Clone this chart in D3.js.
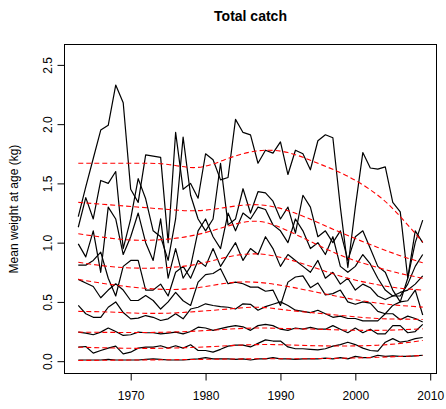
<!DOCTYPE html>
<html>
<head>
<meta charset="utf-8">
<script src="https://cdn.jsdelivr.net/npm/d3@7"></script>
<style>
  body { margin: 0; background: #fff; }
  svg { display: block; }
  text { font-family: "Liberation Sans", Arial, sans-serif; fill: #000; }
</style>
</head>
<body>
<svg id="chart" width="446" height="409"></svg>
<script>
// Mean weight at age (kg) in the total catch, 1963-2009, one array per age group
const years = d3.range(1963, 2010);

const age1 = [0.01,0.01,0.01,0.01,0.015,0.01,0.01,0.01,0.01,0.015,0.02,0.015,0.01,0.01,0.01,0.015,0.02,0.03,0.02,0.02,
              0.02,0.015,0.02,0.01,0.02,0.02,0.03,0.02,0.02,0.015,0.02,0.02,0.02,0.025,0.02,0.03,0.02,0.04,0.03,0.03,
              0.05,0.04,0.045,0.04,0.04,0.045,0.05];
const age2 = [0.118,0.124,0.068,0.09,0.11,0.127,0.062,0.076,0.11,0.118,0.118,0.13,0.11,0.13,0.11,0.138,0.09,0.09,0.076,0.1,
              0.127,0.135,0.135,0.12,0.15,0.18,0.17,0.17,0.12,0.105,0.105,0.1,0.096,0.105,0.127,0.14,0.16,0.14,0.11,0.09,
              0.085,0.16,0.19,0.16,0.17,0.19,0.2];
const age3 = [0.245,0.236,0.223,0.245,0.28,0.25,0.217,0.223,0.245,0.24,0.24,0.23,0.236,0.245,0.23,0.25,0.287,0.28,0.26,0.275,
              0.29,0.3,0.29,0.26,0.3,0.31,0.3,0.27,0.26,0.28,0.27,0.285,0.27,0.27,0.3,0.27,0.24,0.28,0.24,0.27,
              0.23,0.23,0.3,0.3,0.24,0.25,0.31];
const age4 = [0.47,0.4,0.37,0.37,0.455,0.5,0.41,0.357,0.363,0.385,0.37,0.343,0.357,0.4,0.357,0.44,0.455,0.484,0.47,0.46,
              0.455,0.44,0.484,0.48,0.43,0.46,0.48,0.5,0.47,0.43,0.42,0.41,0.43,0.4,0.37,0.38,0.36,0.36,0.34,0.34,
              0.34,0.4,0.4,0.35,0.38,0.36,0.33];
const age5 = [0.69,0.66,0.63,0.535,0.6,0.653,0.6,0.512,0.512,0.554,0.512,0.44,0.5,0.58,0.51,0.47,0.667,0.73,0.74,0.78,
              0.653,0.667,0.653,0.625,0.625,0.59,0.6,0.47,0.667,0.71,0.72,0.62,0.66,0.56,0.57,0.6,0.5,0.48,0.5,0.49,
              0.42,0.4,0.47,0.5,0.51,0.6,0.39];
const age6 = [0.81,0.81,0.85,0.92,0.7,0.55,0.8,0.85,0.85,0.6,0.6,0.65,0.55,0.75,0.8,0.7,0.85,0.8,0.95,0.8,
              0.9,1.0,0.85,0.95,0.9,1.05,0.95,0.8,0.9,0.85,0.8,0.75,0.85,0.7,0.75,0.65,0.7,0.6,0.65,0.62,
              0.55,0.52,0.55,0.58,0.6,0.65,0.72];
const age7 = [0.99,0.88,1.1,0.75,1.3,1.2,0.9,1.05,1.25,1.0,0.85,1.2,0.7,0.95,0.7,0.8,1.1,1.2,1.05,0.95,
              1.25,1.1,1.25,1.2,1.3,1.28,1.15,1.1,1.0,1.2,1.1,0.95,1.0,0.9,1.05,0.8,0.75,0.8,0.9,0.82,
              0.7,0.6,0.55,0.55,0.65,0.8,0.9];
const age8 = [1.13,1.38,1.2,1.525,1.5,1.6,0.95,1.2,1.54,1.37,1.1,1.05,0.85,1.2,1.89,1.4,1.2,1.1,1.2,1.67,
              1.15,1.2,1.455,1.25,1.43,1.42,1.35,1.2,1.3,1.08,1.4,1.3,1.05,1.1,1.0,1.1,0.85,1.05,1.1,0.95,
              0.8,0.75,0.6,0.5,0.7,1.0,1.19];
const age9 = [1.22,1.47,1.71,1.95,1.99,2.33,2.18,1.45,1.34,1.74,1.73,1.72,1.0,1.93,1.45,1.5,1.375,1.75,1.7,1.53,
              1.55,2.04,1.93,1.91,1.67,1.78,1.755,1.85,1.575,1.78,1.75,1.615,1.86,1.91,1.885,1.3,0.79,1.3,1.76,1.63,
              1.62,1.64,1.34,1.26,0.7,1.1,1.0];
const ageSeries = [age1, age2, age3, age4, age5, age6, age7, age8, age9];

// Smoothed trend for each age group, at these years
const trendYears = [1963, 1967, 1971, 1975, 1979, 1983, 1987, 1991, 1995, 1999, 2003, 2006, 2009];
const trend1 = [0.006,0.008,0.01,0.012,0.015,0.018,0.02,0.02,0.022,0.026,0.033,0.04,0.048];
const trend2 = [0.118,0.112,0.108,0.11,0.118,0.13,0.14,0.137,0.13,0.128,0.135,0.15,0.175];
const trend3 = [0.245,0.243,0.242,0.245,0.255,0.27,0.28,0.275,0.27,0.262,0.26,0.265,0.273];
const trend4 = [0.42,0.415,0.405,0.405,0.42,0.44,0.455,0.43,0.405,0.38,0.36,0.355,0.352];
const trend5 = [0.69,0.65,0.62,0.605,0.62,0.66,0.665,0.63,0.58,0.53,0.49,0.47,0.456];
const trend6 = [0.835,0.8,0.785,0.79,0.82,0.88,0.905,0.86,0.78,0.7,0.645,0.615,0.6];
const trend7 = [1.075,1.04,1.02,1.03,1.07,1.14,1.18,1.1,0.98,0.87,0.79,0.74,0.7];
const trend8 = [1.34,1.32,1.3,1.28,1.27,1.3,1.32,1.27,1.17,1.06,0.96,0.89,0.83];
const trend9 = [1.67,1.67,1.67,1.66,1.635,1.71,1.775,1.76,1.67,1.56,1.4,1.22,1.005];
const trendSeries = [trend1, trend2, trend3, trend4, trend5, trend6, trend7, trend8, trend9];

const xTicks = [1970, 1980, 1990, 2000, 2010];
const yTicks = [0, 0.5, 1, 1.5, 2, 2.5];

const svg = d3.select("#chart");
const plot = { left: 64.5, right: 436.5, top: 44.5, bottom: 373.5 };

const x = d3.scaleLinear().domain([1961.16, 2010.84]).range([plot.left, plot.right]);
const y = d3.scaleLinear().domain([-0.104, 2.672]).range([plot.bottom, plot.top]);

// series lines
const line = d3.line().x((d, i) => x(years[i])).y(d => y(d));
svg.append("g")
  .selectAll("path")
  .data(ageSeries)
  .join("path")
  .attr("d", line)
  .attr("fill", "none")
  .attr("stroke", "#000")
  .attr("stroke-width", 1.2)
  .attr("stroke-linejoin", "round");

// trend lines
const trendLine = d3.line()
  .x((d, i) => x(trendYears[i]))
  .y(d => y(d))
  .curve(d3.curveNatural);
svg.append("g")
  .selectAll("path")
  .data(trendSeries)
  .join("path")
  .attr("d", trendLine)
  .attr("fill", "none")
  .attr("stroke", "#ff0000")
  .attr("stroke-width", 1.1)
  .attr("stroke-dasharray", "5,3");

// frame
svg.append("rect")
  .attr("x", plot.left).attr("y", plot.top)
  .attr("width", plot.right - plot.left).attr("height", plot.bottom - plot.top)
  .attr("fill", "none").attr("stroke", "#000").attr("stroke-width", 1);

// x axis
const xAxis = d3.axisBottom(x).tickValues(xTicks).tickFormat(d3.format("d")).tickSize(7).tickPadding(11);
const gx = svg.append("g").attr("transform", `translate(0,${plot.bottom})`).call(xAxis);
gx.select(".domain").attr("d", `M${x(1970)},0H${x(2010)}`);
gx.selectAll("text").attr("font-size", 12).style("font-family", '"Liberation Sans", Arial, sans-serif');

// y axis, labels set parallel to the axis
const yAxis = d3.axisLeft(y).tickValues(yTicks).tickFormat(d3.format(".1f")).tickSize(7);
const gy = svg.append("g").attr("transform", `translate(${plot.left},0)`).call(yAxis);
gy.select(".domain").attr("d", `M0,${y(0)}V${y(2.5)}`);
gy.selectAll(".tick text")
  .attr("font-size", 12)
  .style("font-family", '"Liberation Sans", Arial, sans-serif')
  .attr("text-anchor", "middle")
  .attr("x", null).attr("dy", null)
  .attr("transform", "translate(-12.5,0) rotate(-90)");

// titles
svg.append("text")
  .attr("x", (plot.left + plot.right) / 2).attr("y", 21)
  .attr("text-anchor", "middle")
  .attr("font-size", 14).attr("font-weight", "bold")
  .text("Total catch");

svg.append("text")
  .attr("transform", `translate(18,${(plot.top + plot.bottom) / 2}) rotate(-90)`)
  .attr("text-anchor", "middle")
  .attr("font-size", 12)
  .text("Mean weight at age (kg)");
</script>
</body>
</html>
